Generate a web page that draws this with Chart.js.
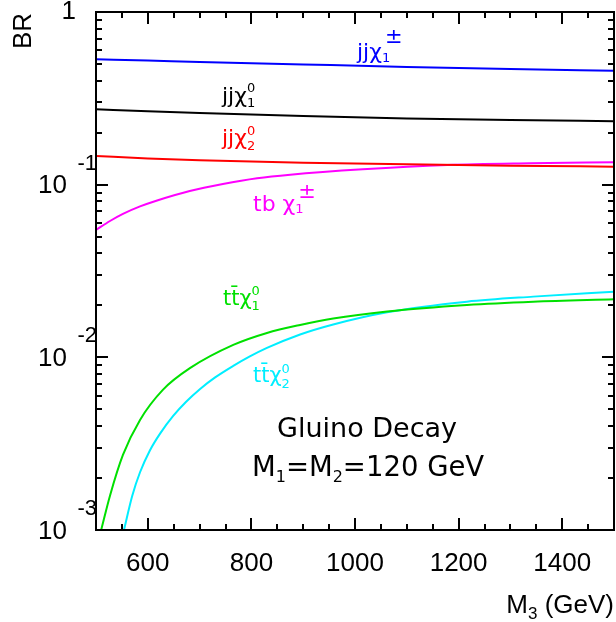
<!DOCTYPE html>
<html>
<head>
<meta charset="utf-8">
<script src="https://cdn.jsdelivr.net/npm/chart.js@4.4.1/dist/chart.umd.min.js"></script>
<style>
  html, body { margin: 0; padding: 0; background: #fff; }
  canvas { display: block; }
</style>
</head>
<body>
<canvas id="br-chart" width="616" height="622"></canvas>
<script>
// gluino decay branching ratios vs M3 (GeV)
var massFlat = [500, 600, 700, 900, 1100, 1300, 1500];
var brJJChiPm = [0.532, 0.523, 0.514, 0.497, 0.481, 0.468, 0.457];
var brJJChi10 = [0.273, 0.266, 0.260, 0.250, 0.242, 0.237, 0.233];
var brJJChi20 = [0.1466, 0.1418, 0.1384, 0.1341, 0.1311, 0.1288, 0.1271];

var massTB = [500, 527, 552, 585, 618, 681, 745, 811, 875, 1015, 1178, 1338, 1500];
var brTBChiPm = [0.0547, 0.0616, 0.0677, 0.0748, 0.0810, 0.0919, 0.1009, 0.1089, 0.1143, 0.1228, 0.1300, 0.1330, 0.1348];

var massTT1 = [510, 527, 552, 585, 629, 682, 765, 830, 894, 958, 1062, 1216, 1344, 1500];
var brTTChi10 = [0.00100, 0.00158, 0.00272, 0.00434, 0.00648, 0.00868, 0.01180, 0.01384, 0.01541, 0.01680, 0.01844, 0.02011, 0.02101, 0.02170];

var massTT2 = [554, 570, 585, 604, 624, 649, 674, 701, 730, 765, 797, 830, 894, 958, 1062, 1216, 1344, 1500];
var brTTChi20 = [0.00100, 0.00158, 0.00216, 0.00289, 0.00363, 0.00458, 0.00553, 0.00656, 0.00765, 0.00892, 0.01012, 0.01134, 0.01357, 0.01551, 0.01825, 0.02101, 0.02247, 0.02401];

var xTickLabels = [600, 800, 1000, 1200, 1400];
var yTickPowers = [0, -1, -2, -3];

function pts(xs, ys) {
    return xs.map(function(x, i){ return { x: x, y: ys[i] }; });
}

// curve labels, drawn as text with sub/superscripts
var notes = [
    { text: 'jjχ', sub: '1', sup: '±', x: 357, y: 59, size: 22, supSize: 21, supDy: -16, subDy: 3, color: '#0000ff' },
    { text: 'jjχ', sub: '1', sup: '0', x: 222, y: 103, size: 22, supSize: 13, supDy: -11, subDy: 4, color: '#000000' },
    { text: 'jjχ', sub: '2', sup: '0', x: 222, y: 145, size: 22, supSize: 13, supDy: -10, subDy: 5, color: '#ff0000' },
    { text: 'tb χ', sub: '1', sup: '±', x: 253, y: 211, size: 22, supSize: 21, supDy: -13, subDy: 2, color: '#ff00ff' },
    { text: 'tt\u0304χ', sub: '1', sup: '0', x: 223, y: 305, size: 21, supSize: 13, supDy: -10, subDy: 5, color: '#00e000' },
    { text: 'tt\u0304χ', sub: '2', sup: '0', x: 253, y: 382, size: 21, supSize: 13, supDy: -9, subDy: 6, color: '#00eeff' }
];

var noteFont = '"DejaVu Sans", sans-serif';
var axisFont = '"Liberation Sans", Arial, sans-serif';

var framePlugin = {
    id: 'frame',
    afterDraw: function(chart) {
        var ctx = chart.ctx;
        var a = chart.chartArea;
        var xs = chart.scales.x, ys = chart.scales.y;
        ctx.save();
        ctx.strokeStyle = '#000';
        ctx.lineWidth = 2;

        // x ticks, inward on bottom and top
        ctx.beginPath();
        for (var m = 550; m <= 1450; m += 50) {
            var px = Math.round(xs.getPixelForValue(m));
            var len = (m % 200 === 0) ? 12 : 6;
            ctx.moveTo(px, a.bottom); ctx.lineTo(px, a.bottom - len);
            ctx.moveTo(px, a.top); ctx.lineTo(px, a.top + len);
        }
        // y ticks, inward on left and right
        for (var d = -3; d < 0; d++) {
            for (var k = 1; k <= 9; k++) {
                var v = k * Math.pow(10, d);
                var py = Math.round(ys.getPixelForValue(v));
                var l2 = (k === 1) ? 12 : 6;
                ctx.moveTo(a.left, py); ctx.lineTo(a.left + l2, py);
                ctx.moveTo(a.right, py); ctx.lineTo(a.right - l2, py);
            }
        }
        ctx.stroke();
        ctx.strokeRect(a.left, a.top, a.right - a.left, a.bottom - a.top);

        // y tick labels: 1, 10^-1, 10^-2, 10^-3
        ctx.fillStyle = '#000';
        ctx.textBaseline = 'middle';
        ctx.textAlign = 'right';
        yTickPowers.forEach(function(p){
            var y = ys.getPixelForValue(Math.pow(10, p));
            ctx.font = '26px ' + axisFont;
            if (p === 0) {
                ctx.fillText('1', 76, y);
                return;
            }
            ctx.fillText('10', 67, y + 1.5);
            ctx.font = '22px ' + axisFont;
            ctx.fillText(String(p), 97, y - 21);
        });

        // y title
        ctx.save();
        ctx.translate(24, 31);
        ctx.rotate(-Math.PI / 2);
        ctx.textAlign = 'center';
        ctx.font = '26px ' + axisFont;
        ctx.fillText('BR', 0, 0);
        ctx.restore();

        // x title  M3 (GeV)
        ctx.textBaseline = 'alphabetic';
        ctx.textAlign = 'left';
        ctx.font = '26px ' + axisFont;
        var wM = ctx.measureText('M').width;
        var wRest = ctx.measureText(' (GeV)').width;
        ctx.font = '17px ' + axisFont;
        var w3 = ctx.measureText('3').width;
        var x0 = 614 - (wM + w3 + wRest);
        ctx.font = '26px ' + axisFont;
        ctx.fillText('M', x0, 613);
        ctx.font = '17px ' + axisFont;
        ctx.fillText('3', x0 + wM, 619);
        ctx.font = '26px ' + axisFont;
        ctx.fillText(' (GeV)', x0 + wM + w3, 613);

        // curve labels
        notes.forEach(function(n){
            ctx.fillStyle = n.color;
            ctx.font = n.size + 'px ' + noteFont;
            ctx.fillText(n.text, n.x, n.y);
            var xe = n.x + ctx.measureText(n.text).width;
            ctx.font = '13px ' + noteFont;
            ctx.fillText(n.sub, xe, n.y + n.subDy);
            ctx.font = n.supSize + 'px ' + noteFont;
            ctx.fillText(n.sup, xe + (n.supSize > 13 ? 3 : 0), n.y + n.supDy);
        });

        // title block
        ctx.fillStyle = '#000';
        ctx.font = '27px ' + noteFont;
        ctx.fillText('Gluino Decay', 277, 437);
        var parts = [['M', 0], ['1', 1], ['=M', 0], ['2', 1], ['=120 GeV', 0]];
        var xp = 252;
        parts.forEach(function(pp){
            ctx.font = (pp[1] ? '16px ' : '27.5px ') + noteFont;
            ctx.fillText(pp[0], xp, pp[1] ? 482 : 476);
            xp += ctx.measureText(pp[0]).width;
        });
        ctx.restore();
    }
};

new Chart(document.getElementById('br-chart'), {
    type: 'line',
    data: {
        datasets: [
            { label: 'jj chi1+-', data: pts(massFlat, brJJChiPm), borderColor: '#0000ff' },
            { label: 'jj chi10', data: pts(massFlat, brJJChi10), borderColor: '#000000' },
            { label: 'jj chi20', data: pts(massFlat, brJJChi20), borderColor: '#ff0000' },
            { label: 'tb chi1+-', data: pts(massTB, brTBChiPm), borderColor: '#ff00ff' },
            { label: 'tt chi10', data: pts(massTT1, brTTChi10), borderColor: '#00e000' },
            { label: 'tt chi20', data: pts(massTT2, brTTChi20), borderColor: '#00eeff' }
        ]
    },
    options: {
        responsive: false,
        animation: false,
        devicePixelRatio: 1,
        layout: { padding: { top: 12, right: 2, left: 0, bottom: 0 } },
        plugins: {
            legend: { display: false },
            tooltip: { enabled: false }
        },
        elements: {
            point: { radius: 0 },
            line: { borderWidth: 2, fill: false, cubicInterpolationMode: 'monotone' }
        },
        scales: {
            x: {
                type: 'linear',
                min: 500,
                max: 1500,
                grid: { display: false, drawTicks: false },
                border: { display: false },
                afterBuildTicks: function(s){ s.ticks = xTickLabels.map(function(v){ return { value: v }; }); },
                afterFit: function(s){ s.height = 92; },
                ticks: {
                    color: '#000',
                    font: { family: axisFont, size: 26 },
                    padding: 18,
                    maxRotation: 0,
                    autoSkip: false,
                    callback: function(v){ return String(v); }
                }
            },
            y: {
                type: 'logarithmic',
                min: 0.001,
                max: 1,
                grid: { display: false, drawTicks: false },
                border: { display: false },
                ticks: { display: false },
                afterFit: function(s){ s.width = 96; }
            }
        }
    },
    plugins: [framePlugin]
});
</script>
</body>
</html>
